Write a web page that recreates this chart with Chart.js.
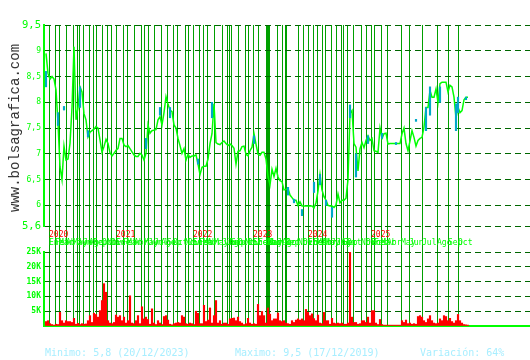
<!DOCTYPE html>
<html><head><meta charset="utf-8">
<script src="https://cdn.jsdelivr.net/npm/chart.js@4"></script>
<style>
html,body{margin:0;padding:0;background:#fff;width:530px;height:360px;overflow:hidden;}
#wrap{position:relative;width:530px;height:360px;}
canvas{position:absolute;left:0;}
#priceChart{top:0;}
#volChart{top:240px;}
.wm{position:absolute;left:14.5px;top:127.5px;transform:translate(-50%,-50%) rotate(-90deg);white-space:nowrap;font:14px "Liberation Mono","DejaVu Sans Mono",monospace;color:#333;line-height:14px;}
.ft{position:absolute;top:346.5px;font:10px/12px "DejaVu Sans Mono",monospace;color:#a8eeff;white-space:nowrap;}
</style></head><body><div id="wrap">
<canvas id="priceChart" width="530" height="252"></canvas>
<canvas id="volChart" width="530" height="120"></canvas>
<div class="wm">www.bolsagrafica.com</div>
<div class="ft" style="left:45px">Minimo: 5,8 (20/12/2023)</div>
<div class="ft" style="left:235px">Maximo: 9,5 (17/12/2019)</div>
<div class="ft" style="left:420px">Variación: 64%</div>
</div>
<script>
// Closing price per session (oldest first)
const price = [
 8.95, 8.56, 8.45, 8.5, 8.45, 8.24, 7.6, 6.75, 6.5, 7.15,
 6.88, 6.9, 7.2, 7.9, 9.08, 7.66, 7.9, 8.3, 8.2, 7.78,
 7.66, 7.33, 7.42, 7.45, 7.48, 7.53, 7.5, 7.27, 7.03, 7.14,
 7.28, 7.2, 7.02, 6.96, 7.01, 7.07, 7.1, 7.3, 7.3, 7.17,
 7.14, 7.16, 7.1, 7.04, 6.98, 6.95, 6.95, 7.01, 6.98, 6.88,
 7.01, 7.56, 7.4, 7.45, 7.46, 7.47, 7.66, 7.72, 7.56, 7.8,
 8.11, 7.96, 7.85, 7.82, 7.56, 7.5, 7.3, 7.16, 7.01, 7.1,
 6.88, 6.99, 6.93, 6.96, 6.96, 6.98, 6.8, 6.6, 6.74, 6.76,
 6.76, 6.9, 7.2, 7.39, 7.97, 7.22, 7.19, 7.18, 7.22, 7.25,
 7.2, 7.16, 7.19, 7.16, 7.11, 6.8, 7.05, 7.06, 7.14, 7.15,
 6.99, 6.96, 7.06, 7.13, 7.39, 7.19, 6.99, 6.97, 7.03, 7.03,
 6.9, 6.56, 6.4, 6.7, 6.56, 6.72, 6.55, 6.48, 6.46, 6.3,
 6.31, 6.33, 6.2, 6.15, 6.1, 6.1, 6.0, 6.07, 5.99, 5.99,
 5.99, 5.99, 5.99, 5.99, 5.95, 6.05, 6.28, 6.6, 6.3, 6.17,
 6.1, 6.0, 5.99, 5.99, 5.96, 6.01, 6.22, 6.05, 6.1, 6.1,
 6.14, 6.5, 7.78, 7.84, 7.2, 7.13, 6.67, 7.1, 7.22, 7.12,
 7.26, 7.35, 7.26, 7.3, 7.06, 7.05, 7.03, 7.5, 7.3, 7.39,
 7.4, 7.19, 7.2, 7.2, 7.2, 7.2, 7.2, 7.2, 7.39, 7.5,
 7.2, 7.06, 7.25, 7.45, 7.32, 7.15, 7.26, 7.3, 7.32, 7.52,
 7.9, 7.9, 8.23, 8.1, 8.1, 8.26, 8.0, 8.36, 8.39, 8.39,
 8.39, 8.2, 8.33, 8.3, 8.1, 7.7, 7.9, 7.8, 7.84, 8.05,
 8.1, 8.1
];
// Volume per session, thousands of shares
const volumeK = [
 1.5, 1.8, 0.8, 0.5, 0.3, 0.6, 0.5, 4.6, 1.8, 1.0,
 1.8, 1.5, 1.5, 1.2, 2.6, 0.6, 0.9, 0.5, 0.8, 0.6,
 0.7, 1.8, 3.5, 1.2, 4.3, 3.9, 3.0, 5.2, 8.6, 14.3,
 11.4, 1.8, 1.0, 0.8, 1.2, 3.7, 3.0, 3.5, 1.8, 3.0,
 1.0, 1.8, 10.2, 1.0, 0.8, 1.8, 3.5, 0.8, 6.5, 2.4,
 3.0, 2.2, 0.6, 5.8, 1.0, 0.5, 1.8, 1.0, 0.5, 3.2,
 3.5, 2.0, 0.6, 0.4, 0.8, 1.0, 1.2, 1.0, 3.5, 3.0,
 0.8, 0.6, 1.0, 0.8, 0.5, 5.0, 4.3, 0.8, 0.8, 7.0,
 1.5, 2.0, 6.1, 1.0, 3.5, 8.6, 1.0, 1.8, 0.6, 1.0,
 1.0, 0.6, 2.4, 2.6, 2.7, 1.8, 3.0, 1.5, 1.0, 0.5,
 0.8, 2.6, 1.0, 0.6, 0.8, 0.6, 7.3, 3.5, 4.9, 3.5,
 1.0, 6.1, 4.0, 1.8, 2.4, 2.4, 4.4, 1.8, 1.5, 1.8,
 1.0, 0.8, 0.6, 1.8, 1.2, 2.0, 2.4, 2.0, 2.4, 1.8,
 5.6, 4.6, 3.5, 4.1, 2.5, 1.8, 3.7, 1.0, 0.8, 4.6,
 1.8, 1.8, 0.6, 2.6, 1.0, 0.8, 1.0, 0.8, 1.0, 0.6,
 0.6, 1.0, 40, 3.0, 1.2, 1.2, 0.6, 0.8, 1.8, 1.8,
 1.2, 3.0, 1.0, 5.2, 5.2, 1.0, 0.5, 2.2, 0.5, 0.3,
 0.3, 0.3, 0.3, 0.3, 0.3, 0.3, 0.3, 0.3, 1.8, 1.2,
 2.0, 0.8, 1.0, 0.6, 0.8, 0.6, 3.2, 3.5, 3.0, 1.8,
 1.2, 2.4, 3.5, 1.8, 1.0, 0.8, 1.0, 2.4, 1.8, 3.5,
 3.2, 1.8, 2.6, 1.5, 1.0, 1.8, 3.9, 1.8, 1.0, 0.5,
 0.4, 0.3
];
// Intraday ranges visible in cyan (session, low, high)
const rangeIdx  = [0, 6, 9, 17, 21, 50, 57, 62, 76, 83, 104, 121, 124, 128, 134, 137, 140, 143, 152, 155, 161, 168, 175, 185, 190, 192, 197, 205, 206, 210];
const rangeLow  = [8.3, 7.55, 7.85, 7.9, 7.33, 7.1, 7.75, 7.7, 6.8, 7.7, 7.2, 6.2, 6.05, 5.8, 6.25, 6.4, 6.0, 5.77, 7.7, 6.55, 7.2, 7.3, 7.18, 7.63, 7.45, 7.75, 8.0, 7.45, 7.8, 8.05];
const rangeHigh = [8.6, 7.8, 7.92, 8.3, 7.45, 7.3, 7.9, 7.9, 6.9, 8.0, 7.35, 6.35, 6.12, 5.92, 6.45, 6.6, 6.1, 5.96, 7.95, 7.0, 7.35, 7.4, 7.22, 7.67, 7.9, 8.3, 8.3, 7.97, 8.1, 8.1];
// Month boundaries on the session axis
const monthStarts = [
 1.5, 4.5, 6.5, 10, 13.5, 15.5, 16.5, 18.5, 21.5, 23.5, 25, 28, 30.5, 32.5,
 35, 38.5, 40.5, 44, 47.5, 49, 51, 54, 57.5, 60.5, 63.5, 65.5, 69.5, 71,
 73.5, 76.5, 78.5, 80.5, 84, 88, 90.5, 91.5, 92.5, 96, 99.5, 101,
 103.5, 106, 110, 110.5, 111, 111.5, 115.5, 118, 119.5, 120, 126, 128.5,
 131, 133.5, 135.5, 138, 139.5, 142.5, 145, 147.5, 148.5, 150.5, 153.5, 157.5, 160,
 162.5, 164, 167.5, 170.5, 177.5, 181.5, 188, 195.5, 201, 206
];
const monthLabels = [
 'Ene','Feb','Mar','Abr','May','Jun','','Jul','Ago','Sep','','Oct','Nov','Dic',
 'Ene','Feb','Mar','Abr','','May','Jun','Jul','Ago','Sep','Oct','','Nov','Dic',
 'Ene','Feb','Mar','Abr','May','Jun','Jul','Ago','Sep','Oct','Nov','Dic',
 'Ene','Feb','Mar','Abr','May','Jun','Jul','Ago','Sep','Oct','Nov','Dic',
 'Ene','Feb','Mar','Abr','May','Jun','Jul','Ago','Sep','Oct','','Nov','Dic',
 'Ene','Feb','Mar','Abr','May','Jun','Jul','Ago','Sep','Oct'
];
const yearStarts = [1.5, 35, 73.5, 103.5, 131, 162.5];
const yearLabels = ['2020', '2021', '2022', '2023', '2024', '2025'];
const priceTicks = [5.6, 6, 6.5, 7, 7.5, 8, 8.5, 9, 9.5];
const volumeTicksK = [0, 5, 10, 15, 20, 25];
const sessionMin = -1, sessionMax = 242;

const GRID_V = '#00a000', GRID_H = '#006600', LIME = '#00ff00';
const MONO = '"DejaVu Sans Mono", monospace';
const setTicks = (vals) => (scale) => { scale.ticks = vals.map(v => ({ value: v })); };
const fixW = (w) => (scale) => { scale.width = w; };
const fixH = (h) => (scale) => { scale.height = h; };
const yearLabelAt = (v) => { const k = yearStarts.indexOf(v); return k >= 0 ? yearLabels[k] : ''; };

new Chart(document.getElementById('priceChart'), {
  type: 'line',
  data: { datasets: [
    { type: 'bar', label: 'Rango', xAxisID: 'x', yAxisID: 'y',
      data: rangeIdx.map((s, k) => ({ x: s, y: [rangeLow[k], rangeHigh[k]] })),
      backgroundColor: '#00a8c8', barThickness: 1.5, order: 0 },
    { type: 'line', label: 'Cotización', xAxisID: 'x', yAxisID: 'y',
      data: price.map((v, i) => ({ x: i, y: v })),
      borderColor: LIME, borderWidth: 1.5, pointRadius: 0, tension: 0, fill: false, order: 1 }
  ]},
  options: {
    responsive: false, animation: false, events: [],
    layout: { padding: { top: 25, left: 0, right: 0, bottom: 0 } },
    plugins: { legend: { display: false }, tooltip: { enabled: false } },
    scales: {
      x: { type: 'linear', min: sessionMin, max: sessionMax, position: 'bottom', weight: 2, offset: false,
        afterBuildTicks: setTicks(monthStarts), afterFit: fixH(14),
        grid: { color: GRID_V, lineWidth: 1, drawTicks: true, tickLength: 14, tickColor: GRID_V, offset: false },
        border: { display: false },
        ticks: { autoSkip: false, maxRotation: 0, minRotation: 0, align: 'start', padding: -13.5, color: LIME,
          font: { family: MONO, size: 8 }, callback: (v, i) => monthLabels[i] } },
      xYear: { type: 'linear', min: sessionMin, max: sessionMax, position: 'bottom', weight: 1, offset: false,
        afterBuildTicks: setTicks(monthStarts), afterFit: fixH(12),
        grid: { display: true, drawOnChartArea: false, drawTicks: true, tickLength: 12, tickColor: GRID_V, color: GRID_V, offset: false },
        border: { display: false },
        ticks: { autoSkip: false, maxRotation: 0, minRotation: 0, align: 'start', padding: -7.5, color: '#ff0000',
          font: { family: MONO, size: 8 }, callback: (v) => yearLabelAt(v) } },
      y: { type: 'linear', min: 5.6, max: 9.5, afterBuildTicks: setTicks(priceTicks), afterFit: fixW(44),
        grid: { color: GRID_H, lineWidth: 1, drawTicks: false },
        border: { display: true, color: LIME, width: 2, dash: [6, 4] },
        ticks: { padding: 3, color: LIME,
          font: (c) => ({ family: MONO, size: (c.tick && (c.tick.value === 9.5 || c.tick.value === 5.6)) ? 10.5 : 8 }),
          callback: (v) => String(v).replace('.', ',') } }
    }
  }
});

new Chart(document.getElementById('volChart'), {
  type: 'bar',
  data: { datasets: [{ label: 'Volumen', data: volumeK.map((v, i) => ({ x: i, y: v })),
    backgroundColor: '#ff0000', barThickness: 1.5 }] },
  options: {
    responsive: false, animation: false, events: [],
    layout: { padding: { top: 12, left: 0, right: 0, bottom: 34 } },
    plugins: { legend: { display: false }, tooltip: { enabled: false } },
    scales: {
      x: { type: 'linear', min: sessionMin, max: sessionMax, offset: false,
        afterBuildTicks: setTicks(monthStarts),
        grid: { color: GRID_V, lineWidth: 1, drawTicks: false, offset: false },
        border: { display: true, color: LIME, width: 2 },
        ticks: { display: false } },
      y: { min: 0, max: 25, afterBuildTicks: setTicks(volumeTicksK), afterFit: fixW(44),
        grid: { color: GRID_H, drawTicks: false },
        border: { display: true, color: LIME, width: 2, dash: [6, 4] },
        ticks: { padding: 3, color: LIME, font: { family: MONO, size: 8, weight: 'bold' },
          callback: (v) => v === 0 ? '' : v + 'K' } }
    }
  }
});
</script>
</body></html>
